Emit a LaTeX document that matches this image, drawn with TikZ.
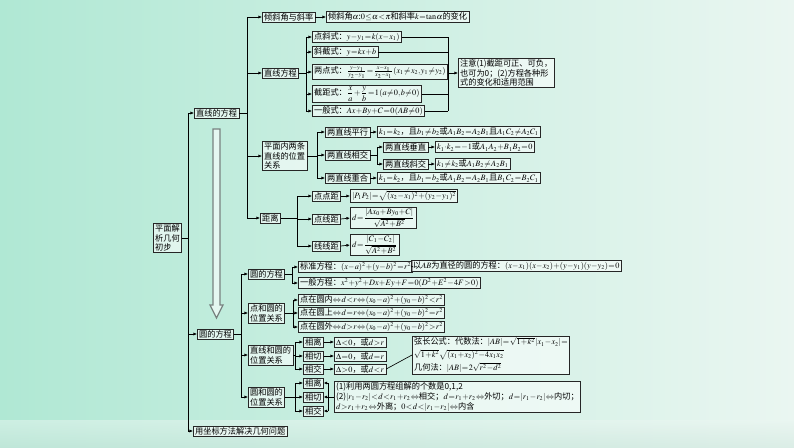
\documentclass[tikz,border=0pt]{standalone}
\usepackage{amsmath}
\usepackage{mathptmx}
\usepackage{fontspec}
\setmainfont{Noto Sans CJK SC}
\usetikzlibrary{arrows.meta}
\definecolor{bgmint}{RGB}{176,232,212}
\definecolor{bglight}{RGB}{234,246,241}
\definecolor{bgdeep}{RGB}{206,230,221}
\definecolor{hollow}{RGB}{120,130,128}
% compact maths, as in the printed chart
\everymath{\thinmuskip=1mu\medmuskip=0.5mu\thickmuskip=1mu}

\begin{document}
\begin{tikzpicture}[x=0.03cm,y=-0.03cm,
    box/.style={draw=black!85,fill=white,fill opacity=.55,text opacity=1,line width=.6pt,
                inner xsep=1.5pt,inner ysep=1pt,anchor=west,align=left,
                font=\fontsize{7}{8.4}\selectfont},
    arr/.style={-{Latex[length=3pt,width=2.6pt]},line width=.55pt},
    ln/.style={line width=.55pt}]

    % background
    \useasboundingbox (0,0) rectangle (794,447);
    \shade[left color=bgmint,right color=bglight] (0,0) rectangle (794,447);
    \shade[top color=bglight,bottom color=bgdeep,opacity=.5] (0,420) rectangle (794,447);

    % hollow arrow
    \draw[hollow,line width=1.1pt,fill=white,fill opacity=.6]
        (213,129) -- (220,129) -- (220,305) -- (223,305) -- (216.5,318)
        -- (210,305) -- (213,305) -- cycle;

    % x positions of the brackets
    \foreach \c/\x in {s0/188,s1/247,s2/306,s3/317,s4/377,s5/297,s6/241,
                       s7/292,s8/293,s9/295,s10/295,s11/328,c1/448}
        \coordinate (\c) at (\x,0);

    % level 0 and 1
    \node[box] (root) at (153,238) {平面解\\析几何\\初步};
    \node[box] (zxfc) at (194,113) {直线的方程};
    \node[box] (yfc)  at (197,334) {圆的方程};
    \node[box] (yzb)  at (193,431) {用坐标方法解决几何问题};

    \draw[ln] (root.east) -- (root.east -| s0);
    \draw[ln] (s0 |- zxfc.west) -- (s0 |- yzb.west);
    \foreach \n in {zxfc,yfc,yzb}
        \draw[arr] (s0 |- \n.west) -- (\n.west);

    % lines
    \node[box] (qxj)  at (262,17)  {倾斜角与斜率};
    \node[box] (zxfc2) at (262,73) {直线方程};
    \node[box] (pmn)  at (262,156) {平面内两条\\直线的位置\\关系};
    \node[box] (jl)   at (260,218) {距离};

    \draw[ln] (zxfc.east) -- (zxfc.east -| s1);
    \draw[ln] (s1 |- qxj.west) -- (s1 |- jl.west);
    \foreach \n in {qxj,zxfc2,pmn,jl}
        \draw[arr] (s1 |- \n.west) -- (\n.west);

    \node[box] (qxjR) at (326,17) {倾斜角$\alpha$:$0\leq\alpha<\pi$和斜率$k=\tan\alpha$的变化};
    \draw[arr] (qxj.east) -- (qxjR.west);

    % forms of the line equation
    \node[box] (dx) at (312,37)  {点斜式：$y-y_1=k(x-x_1)$};
    \node[box] (xj) at (312,52)  {斜截式：$y=kx+b$};
    \node[box] (ld) at (312,72)  {两点式：$\frac{y-y_1}{y_2-y_1}=\frac{x-x_1}{x_2-x_1}(x_1\neq x_2,y_1\neq y_2)$};
    \node[box] (jj) at (312,94)  {截距式：$\dfrac{x}{a}+\dfrac{y}{b}=1\,(a\neq0,b\neq0)$};
    \node[box] (yb) at (312,111) {一般式：$Ax+By+C=0\,(AB\neq0)$};
    \node[box] (note) at (458,73) {注意(1)截距可正、可负，\\也可为0；(2)方程各种形\\式的变化和适用范围};

    \draw[ln] (zxfc2.east) -- (zxfc2.east -| s2);
    \draw[ln] (s2 |- dx.west) -- (s2 |- yb.west);
    \foreach \n in {dx,xj,ld,jj,yb} {
        \draw[arr] (s2 |- \n.west) -- (\n.west);
        \draw[ln] (\n.east) -- (\n.east -| c1);
    }
    \draw[ln] (c1 |- dx.east) -- (c1 |- yb.east);
    \draw[arr] (c1 |- note.west) -- (note.west);

    % two lines
    \node[box] (px) at (325,132) {两直线平行};
    \node[box] (xjiao) at (325,155) {两直线相交};
    \node[box] (ch) at (325,178) {两直线重合};
    \draw[ln] (pmn.east) -- (pmn.east -| s3);
    \draw[ln] (s3 |- px.west) -- (s3 |- ch.west);
    \foreach \n in {px,xjiao,ch}
        \draw[arr] (s3 |- \n.west) -- (\n.west);

    \node[box] (pxR) at (377,132) {$k_1=k_2$，且$b_1\neq b_2$或$A_1B_2=A_2B_1$且$A_1C_2\neq A_2C_1$};
    \node[box] (chR) at (377,178) {$k_1=k_2$，且$b_1=b_2$或$A_1B_2=A_2B_1$且$B_1C_2=B_2C_1$};
    \draw[arr] (px.east) -- (pxR.west);
    \draw[arr] (ch.east) -- (chR.west);

    \node[box] (cz) at (383,147) {两直线垂直};
    \node[box] (xie) at (383,164) {两直线斜交};
    \draw[ln] (xjiao.east) -- (xjiao.east -| s4);
    \draw[ln] (s4 |- cz.west) -- (s4 |- xie.west);
    \foreach \n in {cz,xie}
        \draw[arr] (s4 |- \n.west) -- (\n.west);
    \node[box] (czR) at (435,147) {$k_1\cdot k_2=-1$或$A_1A_2+B_1B_2=0$};
    \node[box] (xieR) at (435,164) {$k_1\neq k_2$或$A_1B_2\neq A_2B_1$};
    \draw[arr] (cz.east) -- (czR.west);
    \draw[arr] (xie.east) -- (xieR.west);

    % distances
    \node[box] (ddj) at (312,196) {点点距};
    \node[box] (dxj) at (312,219) {点线距};
    \node[box] (xxj) at (312,246) {线线距};
    \draw[ln] (jl.east) -- (jl.east -| s5);
    \draw[ln] (s5 |- ddj.west) -- (s5 |- xxj.west);
    \foreach \n in {ddj,dxj,xxj}
        \draw[arr] (s5 |- \n.west) -- (\n.west);
    \node[box] (ddjR) at (350,196) {$|P_1P_2|=\sqrt{(x_2-x_1)^2+(y_2-y_1)^2}$};
    \node[box] (dxjR) at (350,218) {$d=\dfrac{|Ax_0+By_0+C|}{\sqrt{A^2+B^2}}$};
    \node[box] (xxjR) at (350,245) {$d=\dfrac{|C_1-C_2|}{\sqrt{A^2+B^2}}$};
    \foreach \n in {ddj,dxj,xxj}
        \draw[arr] (\n.east) -- (\n R.west);

    % circles
    \node[box] (yfc2) at (248,274) {圆的方程};
    \node[box] (dhy) at (248,313) {点和圆的\\位置关系};
    \node[box] (zhy) at (248,355) {直线和圆的\\位置关系};
    \node[box] (yhy) at (248,397) {圆和圆的\\位置关系};
    \draw[ln] (yfc.east) -- (yfc.east -| s6);
    \draw[ln] (s6 |- yfc2.west) -- (s6 |- yhy.west);
    \foreach \n in {yfc2,dhy,zhy,yhy}
        \draw[arr] (s6 |- \n.west) -- (\n.west);

    \node[box] (bz) at (298,267) {标准方程：$(x-a)^2+(y-b)^2=r^2$};
    \node[box] (yb2) at (298,283) {一般方程：$x^2+y^2+Dx+Ey+F=0(D^2+E^2-4F>0)$};
    \node[box] (bzR) at (411,266) {以$AB$为直径的圆的方程：$(x-x_1)(x-x_2)+(y-y_1)(y-y_2)=0$};
    \draw[ln] (yfc2.east) -- (yfc2.east -| s7);
    \draw[ln] (s7 |- bz.west) -- (s7 |- yb2.west);
    \foreach \n in {bz,yb2}
        \draw[arr] (s7 |- \n.west) -- (\n.west);
    \draw[ln] (bz.east) -- (bzR.west);

    \node[box] (dn) at (298,300) {点在圆内$\Leftrightarrow d<r\Leftrightarrow(x_0-a)^2+(y_0-b)^2<r^2$};
    \node[box] (ds) at (298,313) {点在圆上$\Leftrightarrow d=r\Leftrightarrow(x_0-a)^2+(y_0-b)^2=r^2$};
    \node[box] (dw) at (298,327) {点在圆外$\Leftrightarrow d>r\Leftrightarrow(x_0-a)^2+(y_0-b)^2>r^2$};
    \draw[ln] (dhy.east) -- (dhy.east -| s8);
    \draw[ln] (s8 |- dn.west) -- (s8 |- dw.west);
    \foreach \n in {dn,ds,dw}
        \draw[arr] (s8 |- \n.west) -- (\n.west);

    % line and circle
    \node[box] (zl) at (303,342) {相离};
    \node[box] (zq) at (303,356) {相切};
    \node[box] (zj) at (303,369) {相交};
    \draw[ln] (zhy.east) -- (zhy.east -| s9);
    \draw[ln] (s9 |- zl.west) -- (s9 |- zj.west);
    \foreach \n in {zl,zq,zj}
        \draw[arr] (s9 |- \n.west) -- (\n.west);
    \node[box] (zlR) at (334,342) {$\Delta<0$，或$d>r$};
    \node[box] (zqR) at (334,356) {$\Delta=0$，或$d=r$};
    \node[box] (zjR) at (334,369) {$\Delta>0$，或$d<r$};
    \foreach \n in {zl,zq,zj}
        \draw[arr] (\n.east) -- (\n R.west);
    \node[box] (chord) at (412,355) {弦长公式：代数法：$|AB|=\sqrt{1+k^2}\,|x_1-x_2|=$\\[2pt]
        $\sqrt{1+k^2}\sqrt{(x_1+x_2)^2-4x_1x_2}$\\[2pt]几何法：$|AB|=2\sqrt{r^2-d^2}$};
    \draw[ln] (zjR.east) -- (chord.west);

    % circle and circle
    \node[box] (yl) at (303,383) {相离};
    \node[box] (yq) at (303,397) {相切};
    \node[box] (yj) at (303,411) {相交};
    \draw[ln] (yhy.east) -- (yhy.east -| s10);
    \draw[ln] (s10 |- yl.west) -- (s10 |- yj.west);
    \foreach \n in {yl,yq,yj}
        \draw[arr] (s10 |- \n.west) -- (\n.west);
    \node[box] (yyR) at (334,397) {(1)利用两圆方程组解的个数是0,1,2\\
        (2)$|r_1-r_2|<d<r_1+r_2\Leftrightarrow$相交；$d=r_1+r_2\Leftrightarrow$外切；$d=|r_1-r_2|\Leftrightarrow$内切；\\
        $d>r_1+r_2\Leftrightarrow$外离；$0<d<|r_1-r_2|\Leftrightarrow$内含};
    \draw[ln] (yyR.west) -- (yyR.west -| s11);
    \draw[ln] (s11 |- yl.east) -- (s11 |- yj.east);
    \foreach \n in {yl,yq,yj}
        \draw[arr] (s11 |- \n.east) -- (\n.east);

\end{tikzpicture}
\end{document}
